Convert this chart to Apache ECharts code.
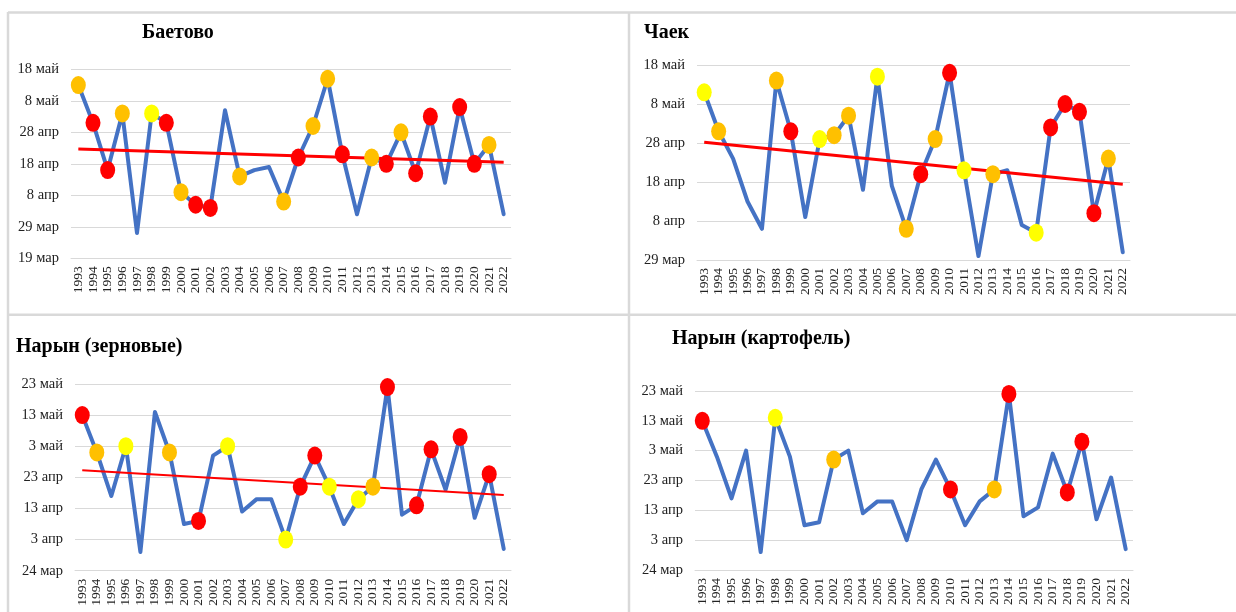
<!DOCTYPE html>
<html><head><meta charset="utf-8">
<script src="https://cdn.jsdelivr.net/npm/echarts@6/dist/echarts.min.js"></script>
<style>html,body{margin:0;padding:0;background:#fff}#c{width:1236px;height:612px}</style>
</head><body><div id="c"></div>
<script>
// ---- categories ----
const years = ['1993','1994','1995','1996','1997','1998','1999','2000','2001','2002','2003','2004','2005','2006','2007','2008','2009','2010','2011','2012','2013','2014','2015','2016','2017','2018','2019','2020','2021','2022'];

// ---- Баетово (values = days after 19 мар) ----
const baetovoTicks = ['19 мар','29 мар','8 апр','18 апр','28 апр','8 май','18 май'];
const baetovoDays = [55,43,28,46,8,46,43,21,17,16,47,26,28,29,18,32,42,57,33,14,32,30,40,27,45,24,48,30,36,14];
const baetovoRed = ['1994','1995','1999','2001','2002','2008','2011','2014','2016','2017','2019','2020'];
const baetovoOrange = ['1993','1996','2000','2004','2007','2009','2010','2013','2015','2021'];
const baetovoYellow = ['1998'];
const baetovoTrend = [34.7, 30.5];

// ---- Чаек (values = days after 29 мар) ----
const chaekTicks = ['29 мар','8 апр','18 апр','28 апр','8 май','18 май'];
const chaekDays = [43,33,26,15,8,46,33,11,31,32,37,18,47,19,8,22,31,48,23,1,22,23,9,7,34,40,38,12,26,2];
const chaekRed = ['1999','2008','2010','2017','2018','2019','2020'];
const chaekOrange = ['1994','1998','2002','2003','2007','2009','2013','2021'];
const chaekYellow = ['1993','2001','2005','2011','2016'];
const chaekTrend = [30.2, 19.4];

// ---- Нарын (values = days after 24 мар) ----
const narynTicks = ['24 мар','3 апр','13 апр','23 апр','3 май','13 май','23 май'];
const narynGrainDays = [50,38,24,40,6,51,38,15,16,37,40,19,23,23,10,27,37,27,15,23,27,59,18,21,39,26,43,17,31,7];
const narynGrainRed = ['1993','2001','2008','2009','2014','2016','2017','2019','2021'];
const narynGrainOrange = ['1994','1999','2013'];
const narynGrainYellow = ['1996','2003','2007','2010','2012'];
const narynGrainTrend = [32.3, 24.3];

const narynPotatoDays = [50,38,24,40,6,51,38,15,16,37,40,19,23,23,10,27,37,27,15,23,27,59,18,21,39,26,43,17,31,7];
const narynPotatoRed = ['1993','2010','2014','2018','2019'];
const narynPotatoOrange = ['2002','2013'];
const narynPotatoYellow = ['1998'];

// ---- layout ----
const FONT = "'Liberation Serif', 'DejaVu Serif', serif";
const panels = [
  {title:'Баетово', tx:142, ty:35, grid:{left:71, top:69.3, width:440, height:189}, ticks:baetovoTicks, days:baetovoDays, red:baetovoRed, orange:baetovoOrange, yellow:baetovoYellow, trend:baetovoTrend, tw:3},
  {title:'Чаек', tx:644, ty:35, grid:{left:697, top:65, width:433, height:195}, ticks:chaekTicks, days:chaekDays, red:chaekRed, orange:chaekOrange, yellow:chaekYellow, trend:chaekTrend, tw:3},
  {title:'Нарын (зерновые)', tx:16, ty:349, grid:{left:75, top:384, width:436, height:186.7}, ticks:narynTicks, days:narynGrainDays, red:narynGrainRed, orange:narynGrainOrange, yellow:narynGrainYellow, trend:narynGrainTrend, tw:2},
  {title:'Нарын (картофель)', tx:672, ty:341, grid:{left:695, top:391, width:438, height:179}, ticks:narynTicks, days:narynPotatoDays, red:narynPotatoRed, orange:narynPotatoOrange, yellow:narynPotatoYellow, trend:null, tw:0}
];

const ELLIPSE = 'path://M0,-10A10,10,0,1,1,0,10A10,10,0,1,1,0,-10Z';
const grids = [], xAxes = [], yAxes = [], series = [], graphics = [];

panels.forEach((p, i) => {
  grids.push(Object.assign({containLabel:false}, p.grid));
  xAxes.push({
    type:'category', gridIndex:i, data:years, boundaryGap:true,
    axisLine:{show:true, lineStyle:{color:'#d9d9d9', width:1}},
    axisTick:{show:false},
    axisLabel:{interval:0, rotate:90, margin:8, fontFamily:FONT, fontSize:13.5, color:'#222'}
  });
  const maxV = (p.ticks.length - 1) * 10;
  yAxes.push({
    type:'value', gridIndex:i, min:0, max:maxV, interval:10,
    axisLine:{show:false}, axisTick:{show:false},
    splitLine:{show:true, lineStyle:{color:'#d9d9d9', width:1}},
    axisLabel:{margin:12, fontFamily:FONT, fontSize:14.5, color:'#222',
      formatter: (v) => p.ticks[Math.round(v / 10)] || ''}
  });
  series.push({
    type:'line', xAxisIndex:i, yAxisIndex:i, data:p.days, symbol:'none', z:2,
    lineStyle:{color:'#4472C4', width:4, join:'round', cap:'round'}
  });
  if (p.trend) {
    series.push({
      type:'line', xAxisIndex:i, yAxisIndex:i, symbol:'none', z:3,
      data:[[years[0], p.trend[0]], [years[years.length-1], p.trend[1]]],
      lineStyle:{color:'#FF0000', width:p.tw}
    });
  }
  [['#FF0000', p.red], ['#FFC000', p.orange], ['#FFFF00', p.yellow]].forEach(([col, list]) => {
    series.push({
      type:'scatter', xAxisIndex:i, yAxisIndex:i, z:4, clip:false,
      symbol:ELLIPSE, symbolSize:[15,18],
      itemStyle:{color:col, opacity:1},
      data:list.map(y => [y, p.days[years.indexOf(y)]])
    });
  });
  graphics.push({
    type:'text', left:p.tx, top:p.ty - 12, z:10,
    style:{text:p.title, font:"bold 20px " + FONT, fill:'#000'}
  });
});

// panel borders
const B = '#d9d9d9';
[[8,12.5,1236,12.5],[8,314.7,1236,314.7],[8,12,8,612],[629,12,629,612]].forEach(l => {
  graphics.push({type:'line', z:1, shape:{x1:l[0], y1:l[1], x2:l[2], y2:l[3]}, style:{stroke:B, lineWidth:2.5}});
});

const chart = echarts.init(document.getElementById('c'), null, {renderer:'canvas'});
chart.setOption({
  animation:false, backgroundColor:'#fff',
  grid:grids, xAxis:xAxes, yAxis:yAxes, series:series, graphic:graphics
});
</script></body></html>
